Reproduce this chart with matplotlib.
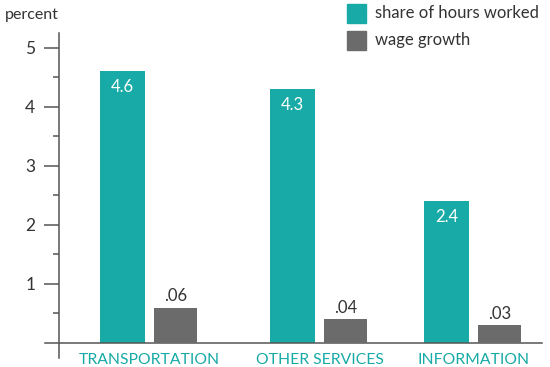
import matplotlib.pyplot as plt
from matplotlib.patches import Rectangle

# data
categories = ["TRANSPORTATION", "OTHER SERVICES", "INFORMATION"]
share_hours = [4.6, 4.3, 2.4]
wage_growth = [0.06, 0.04, 0.03]
series_names = ["share of hours worked", "wage growth"]

TEAL = "#17aaa6"
GRAY = "#6b6b6b"
TEXT = "#333333"
AXIS = "#555555"

plt.rcParams['font.family'] = ['Lato', 'DejaVu Sans']

fig = plt.figure(figsize=(5.5, 3.67), dpi=100)
ax = fig.add_axes([59 / 550, 9 / 367, 483 / 550, 325 / 367])

# group centres are not evenly spaced in the original
pos = [0.0, 1.0, 1.906]
w_teal = 0.265
w_gray = 0.253
gap = 0.053

ylim = (-0.254, 5.25)
ax.set_ylim(*ylim)
ax.set_xlim(-0.532, 2.309)

x_teal = [p - gap / 2 - w_teal / 2 for p in pos]
x_gray = [p + gap / 2 + w_gray / 2 for p in pos]

ax.bar(x_teal, share_hours, width=w_teal, color=TEAL, zorder=2)

# wage growth sits on its own scale (10x smaller)
ax2 = ax.twinx()
ax2.set_ylim(ylim[0] / 10, ylim[1] / 10)
ax2.bar(x_gray, wage_growth, width=w_gray, color=GRAY, zorder=2)
ax2.axis("off")

for x, v in zip(x_teal, share_hours):
    ax.text(x, v - 0.27, f"{v:.1f}", ha="center", va="center",
            color="white", fontsize=12)
for x, v in zip(x_gray, wage_growth):
    ax2.text(x, v + 0.019, f"{v:.2f}".lstrip("0"), ha="center",
             va="center", color=TEXT, fontsize=12)

# axes styling
for s in ["top", "right", "bottom"]:
    ax.spines[s].set_visible(False)
ax.spines["left"].set_color(AXIS)
ax.spines["left"].set_linewidth(1.1)
ax.axhline(0, xmin=-0.03, xmax=1.0, color=AXIS, lw=1.1, clip_on=False, zorder=3)

ax.set_yticks([1, 2, 3, 4, 5])
ax.set_yticks([0.5, 1.5, 2.5, 3.5, 4.5], minor=True)
ax.tick_params(axis="y", which="major", length=11, width=1.1, color=AXIS,
               labelsize=12.5, labelcolor=TEXT, pad=6)
ax.tick_params(axis="y", which="minor", length=4.5, width=1.1, color=AXIS)

ax.set_xticks([])
for p, name in zip(pos, categories):
    ax.text(p, -0.29, name, color=TEAL, fontsize=11.3, ha="center",
            va="center", clip_on=False)

fig.text(5 / 550, 1 - 15 / 367, "percent", color=TEXT, fontsize=11.5,
         ha="left", va="center")

# legend drawn by hand at top right
legend_items = [(series_names[0], TEAL, 13), (series_names[1], GRAY, 40)]
for name, col, yc in legend_items:
    fig.patches.append(Rectangle((347 / 550, 1 - (yc + 9.5) / 367), 19 / 550, 19 / 367,
                                 transform=fig.transFigure, color=col))
    fig.text(375 / 550, 1 - yc / 367, name, color=TEXT, fontsize=12,
             ha="left", va="center")

fig.savefig("out.png", dpi=100)
